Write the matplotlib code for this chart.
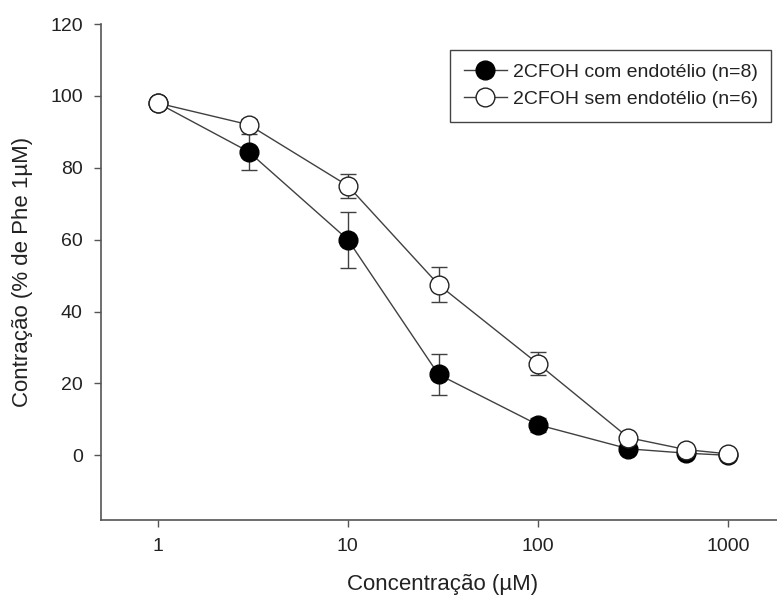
import matplotlib
matplotlib.use("Agg")
import matplotlib.pyplot as plt
from matplotlib.ticker import FixedLocator, NullLocator, FixedFormatter

plt.rcParams['font.family'] = ['Liberation Sans', 'DejaVu Sans']

# Data
conc = [1, 3, 10, 30, 100, 300, 600, 1000]
com_end = [98, 84.5, 60, 22.5, 8.5, 1.8, 0.6, 0.0]
com_err = [1.0, 5.0, 7.8, 5.6, 2.0, 1.0, 0.5, 0.3]
sem_end = [98, 92, 75, 47.5, 25.5, 4.9, 1.6, 0.4]
sem_err = [1.0, 1.5, 3.4, 4.8, 3.2, 1.0, 0.5, 0.3]
xticks = [1, 10, 100, 1000]
xticklabels = ["1", "10", "100", "1000"]
yticks = [0, 20, 40, 60, 80, 100, 120]
label_com = "2CFOH com endotélio (n=8)"
label_sem = "2CFOH sem endotélio (n=6)"

fig = plt.figure(figsize=(7.77, 6.01), dpi=100)
ax = fig.add_axes([0.1296, 0.1348, 0.8807, 0.8252])

line_col = "#404040"
err_col = "#404040"

ax.errorbar(conc, com_end, yerr=com_err, fmt='none', ecolor=err_col,
            elinewidth=1.0, capsize=6, capthick=1.0, zorder=2)
h1, = ax.plot(conc, com_end, color=line_col, lw=1.0, marker='o', markersize=13.5,
              markerfacecolor='black', markeredgecolor='black', markeredgewidth=1.0,
              label=label_com, zorder=4)

ax.errorbar(conc, sem_end, yerr=sem_err, fmt='none', ecolor=err_col,
            elinewidth=1.0, capsize=6, capthick=1.0, zorder=5)
h2, = ax.plot(conc, sem_end, color=line_col, lw=1.0, marker='o', markersize=13.5,
              markerfacecolor='white', markeredgecolor='#222222', markeredgewidth=1.0,
              label=label_sem, zorder=6)

ax.set_xscale('log')
ax.set_xlim(0.5, 2000)
ax.set_ylim(-18, 120)
ax.xaxis.set_major_locator(FixedLocator(xticks))
ax.xaxis.set_major_formatter(FixedFormatter(xticklabels))
ax.xaxis.set_minor_locator(NullLocator())
ax.set_yticks(yticks)

for s in ['top', 'right']:
    ax.spines[s].set_visible(False)
for s in ['left', 'bottom']:
    ax.spines[s].set_color('#555555')
    ax.spines[s].set_linewidth(1.2)

ax.tick_params(axis='both', direction='out', length=5, width=1, color='#555555',
               labelsize=14, labelcolor='#222222', pad=8)

ax.set_xlabel("Concentração (µM)", fontsize=16, color='#222222', labelpad=14)
ax.set_ylabel("Contração (% de Phe 1µM)", fontsize=16, color='#222222', labelpad=12)

leg = ax.legend(handles=[h1, h2], loc='upper right', bbox_to_anchor=(0.994, 0.968),
                fontsize=14, frameon=True, fancybox=False, framealpha=1,
                edgecolor='#444444', handlelength=2.2, handletextpad=0.3,
                borderpad=0.7, labelspacing=0.5, markerscale=1.0)
leg.get_frame().set_linewidth(1.0)
for t in leg.get_texts():
    t.set_color('#222222')

fig.savefig("out.png", dpi=100)
